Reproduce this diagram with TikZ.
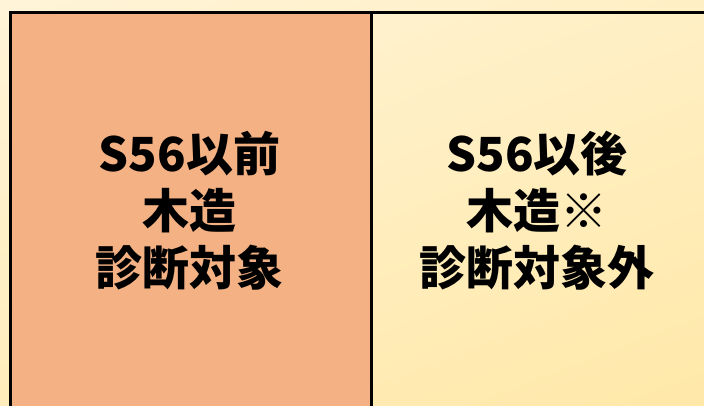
\documentclass[tikz,border=0pt]{standalone}
\usepackage{fontspec}
\usetikzlibrary{shadings}
\newfontfamily\cjk{Noto Sans CJK JP}
\definecolor{bgA}{HTML}{FFF4D8}
\definecolor{bgB}{HTML}{FFE8A8}
\definecolor{leftfill}{HTML}{F4B183}
\begin{document}
\begin{tikzpicture}[x=1pt,y=1pt,
  panel/.style={draw=black,line width=2.8pt},
  label/.style={font=\cjk\bfseries\fontsize{47}{57}\selectfont,align=center,text=black}]
\useasboundingbox (0,0) rectangle (704,406);
\clip (0,0) rectangle (704,406);
\shade[upper left=bgA,lower right=bgB,upper right=bgA!60!bgB,lower left=bgA!40!bgB] (0,0) rectangle (704,406);
\node[panel,fill=leftfill,minimum width=361pt,minimum height=410pt,anchor=north west,inner sep=0pt] (left) at (9,395) {};
\node[panel,minimum width=360pt,minimum height=410pt,anchor=north west,inner sep=0pt] (right) at (370,395) {};
\node[label] (lt) at (189.5,195) {S56以前\\木造\\診断対象};
\node[label] (rt) at (537,195) {S56以後\\木造※\\診断対象外};
\end{tikzpicture}
\end{document}
